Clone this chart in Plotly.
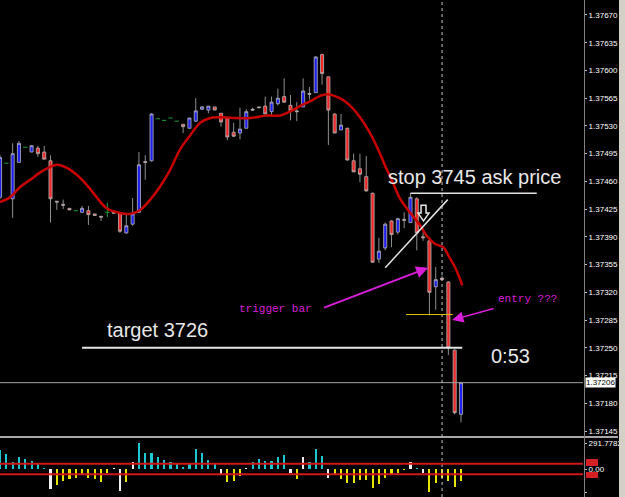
import plotly.graph_objects as go

# ---------------- data ----------------
opens = [1.37440, 1.37483, 1.37438, 1.37484, 1.37503, 1.37497, 1.37502, 1.37497, 1.37486, 1.37435,
         1.37431, 1.37426, 1.37423, 1.37421, 1.37423, 1.37419, 1.37416, 1.37421, 1.37421, 1.37420,
         1.37395, 1.37406, 1.37421, 1.37485, 1.37486, 1.37539, 1.37537, 1.37540, 1.37536, 1.37532,
         1.37527, 1.37536, 1.37551, 1.37550, 1.37554, 1.37546, 1.37540, 1.37522, 1.37521, 1.37527,
         1.37551, 1.37554, 1.37555, 1.37548, 1.37558, 1.37567, 1.37556, 1.37549, 1.37554, 1.37571,
         1.37572, 1.37620, 1.37592, 1.37545, 1.37525, 1.37527, 1.37486, 1.37476, 1.37466, 1.37445,
         1.37362, 1.37376, 1.37410, 1.37396, 1.37412, 1.37408, 1.37438, 1.37390, 1.37385, 1.37327,
         1.37338, 1.37333, 1.37247, 1.37166]
highs = [1.37493, 1.37483, 1.37508, 1.37511, 1.37503, 1.37506, 1.37505, 1.37505, 1.37493, 1.37435,
         1.37437, 1.37426, 1.37423, 1.37429, 1.37429, 1.37419, 1.37416, 1.37433, 1.37422, 1.37421,
         1.37420, 1.37439, 1.37497, 1.37493, 1.37546, 1.37539, 1.37537, 1.37540, 1.37536, 1.37532,
         1.37540, 1.37565, 1.37555, 1.37555, 1.37554, 1.37546, 1.37541, 1.37534, 1.37553, 1.37551,
         1.37553, 1.37554, 1.37567, 1.37567, 1.37577, 1.37590, 1.37569, 1.37560, 1.37590, 1.37579,
         1.37618, 1.37621, 1.37592, 1.37546, 1.37545, 1.37528, 1.37495, 1.37495, 1.37492, 1.37446,
         1.37389, 1.37408, 1.37411, 1.37414, 1.37421, 1.37445, 1.37440, 1.37396, 1.37386, 1.37352,
         1.37341, 1.37334, 1.37248, 1.37206]
lows = [1.37438, 1.37483, 1.37414, 1.37484, 1.37503, 1.37497, 1.37491, 1.37488, 1.37408, 1.37424,
        1.37425, 1.37424, 1.37423, 1.37420, 1.37405, 1.37417, 1.37410, 1.37415, 1.37419, 1.37395,
        1.37394, 1.37404, 1.37420, 1.37462, 1.37485, 1.37539, 1.37537, 1.37540, 1.37536, 1.37521,
        1.37527, 1.37535, 1.37550, 1.37546, 1.37550, 1.37529, 1.37512, 1.37516, 1.37513, 1.37527,
        1.37549, 1.37553, 1.37545, 1.37544, 1.37556, 1.37559, 1.37537, 1.37536, 1.37554, 1.37563,
        1.37572, 1.37582, 1.37506, 1.37521, 1.37525, 1.37486, 1.37472, 1.37459, 1.37447, 1.37357,
        1.37357, 1.37373, 1.37377, 1.37393, 1.37401, 1.37408, 1.37373, 1.37385, 1.37291, 1.37298,
        1.37335, 1.37241, 1.37166, 1.37156]
closes = [1.37490, 1.37483, 1.37495, 1.37508, 1.37503, 1.37505, 1.37495, 1.37488, 1.37438, 1.37434,
          1.37430, 1.37424, 1.37423, 1.37426, 1.37418, 1.37417, 1.37415, 1.37421, 1.37420, 1.37397,
          1.37404, 1.37419, 1.37481, 1.37484, 1.37545, 1.37539, 1.37537, 1.37540, 1.37536, 1.37529,
          1.37540, 1.37549, 1.37554, 1.37555, 1.37550, 1.37535, 1.37516, 1.37517, 1.37526, 1.37548,
          1.37550, 1.37553, 1.37545, 1.37560, 1.37565, 1.37560, 1.37549, 1.37548, 1.37574, 1.37570,
          1.37617, 1.37596, 1.37550, 1.37521, 1.37531, 1.37487, 1.37472, 1.37469, 1.37448, 1.37358,
          1.37372, 1.37406, 1.37393, 1.37413, 1.37411, 1.37440, 1.37395, 1.37389, 1.37320, 1.37336,
          1.37336, 1.37250, 1.37168, 1.37206]

# moving average (bar position, price)
ma_x = [0, 1.6, 3.2, 4.8, 6.3, 7.9, 9.0, 10.6, 12.2, 13.8, 15.4, 16.9, 19.0, 20.6, 22.2, 23.8,
        25.3, 26.9, 28.5, 30.1, 31.7, 33.3, 34.8, 36.9, 39.6, 42.3, 44.3, 45.9, 47.5, 49.1, 50.7,
        51.8, 53.8, 55.4, 57.0, 58.6, 59.9, 61.3, 62.2, 63.3, 64.9, 66.5, 67.6, 68.9, 70.2, 71.1,
        72.1, 73.2]
ma_y = [1.37434, 1.37440, 1.37453, 1.37462, 1.37471, 1.37478, 1.37481, 1.37477, 1.37468, 1.37455,
        1.37439, 1.37426, 1.37420, 1.37419, 1.37424, 1.37437, 1.37453, 1.37474, 1.37500, 1.37518,
        1.37534, 1.37540, 1.37541, 1.37540, 1.37540, 1.37543, 1.37543, 1.37548, 1.37555, 1.37561,
        1.37568, 1.37570, 1.37565, 1.37556, 1.37541, 1.37521, 1.37500, 1.37474, 1.37459, 1.37439,
        1.37421, 1.37405, 1.37391, 1.37381, 1.37377, 1.37365, 1.37351, 1.37329]

# oscillator histogram
hist = [213, 168, 79, 135, 112, 90, 67, 8, -224, -180,
        -135, -112, -101, -56, -101, -112, -146, -45, 5, -247,
        -146, 79, 291.7782, 180, 180, 135, 101, 79, 56, 22,
        56, 224, 180, 101, 56, -56, -146, -135, -79, 11,
        79, 112, 90, 90, 135, 157, -45, -112, 135, 79,
        224, 146, -101, -56, -112, -157, -157, -124, -124, -213,
        -168, -101, -67, -45, -8, 79, 11, -45, -260.675, -157,
        -101, -135, -202, -135]

price_ticks = [1.37145, 1.37180, 1.37215, 1.37250, 1.37285, 1.37320, 1.37355, 1.37390,
               1.37425, 1.37460, 1.37495, 1.37530, 1.37565, 1.37600, 1.37635, 1.37670]
osc_ticks = [291.7782, 0.0, -260.675]
osc_labels = ["291.7782", "0.00", "-260.675"]
osc_levels = [60, -60]

last_price = 1.37206
stop_level = 1.37445
target_level = 1.37250
entry_level = 1.37292
marker_bar = 70

# ---------------- figure ----------------
W, H = 625, 497
XR = [0, 92.32]
X_END = 583 / W

n = len(opens)
idx = list(range(n))
body = [i for i in idx if opens[i] != closes[i]]
doji = [i for i in idx if opens[i] == closes[i]]

fig = go.Figure()

fig.add_trace(go.Candlestick(
    x=body, open=[opens[i] for i in body], high=[highs[i] for i in body],
    low=[lows[i] for i in body], close=[closes[i] for i in body],
    increasing=dict(fillcolor="#1f1ff0", line=dict(color="#b4b4b4", width=0.8)),
    decreasing=dict(fillcolor="#f02828", line=dict(color="#b4b4b4", width=0.8)),
    whiskerwidth=0, xaxis="x", yaxis="y", showlegend=False, hoverinfo="skip"))

dx, dy = [], []
for i in doji:
    dx += [i - 0.35, i + 0.35, None, i, i, None]
    dy += [opens[i], opens[i], None, lows[i], highs[i], None]
fig.add_trace(go.Scatter(x=dx, y=dy, mode="lines", line=dict(color="#1c9a3a", width=1),
                         xaxis="x", yaxis="y", showlegend=False, hoverinfo="skip"))

fig.add_trace(go.Scatter(x=ma_x, y=ma_y, mode="lines", line=dict(color="#c80000", width=2.5, shape="spline"),
                         xaxis="x", yaxis="y", showlegend=False, hoverinfo="skip"))

cols = []
for i, v in enumerate(hist):
    if i > 0 and (v > 0) != (hist[i - 1] > 0):
        cols.append("#f0f0f0")
    else:
        cols.append("#1ec8d2" if v > 0 else "#e8e600")
fig.add_trace(go.Bar(x=idx, y=hist, marker=dict(color=cols, line=dict(width=0)), width=0.34,
                     xaxis="x2", yaxis="y2", showlegend=False, hoverinfo="skip"))

def py(p):  # pixel row -> paper y
    return 1 - p / H

def px(p):
    return p / W

shapes = []
# panel separator / frames
shapes.append(dict(type="line", xref="paper", yref="paper", x0=0, x1=px(618), y0=py(437), y1=py(437),
                   line=dict(color="#a8a8a8", width=2)))
shapes.append(dict(type="line", xref="paper", yref="paper", x0=px(584.5), x1=px(584.5), y0=0, y1=1,
                   line=dict(color="#808080", width=1)))
shapes.append(dict(type="rect", xref="paper", yref="paper", x0=px(619), x1=1, y0=0, y1=1,
                   fillcolor="#d4d0c8", line=dict(width=0)))
# current price line
shapes.append(dict(type="line", xref="paper", yref="y", x0=0, x1=X_END, y0=last_price, y1=last_price,
                   line=dict(color="#a0a0a0", width=1)))
# vertical dashed marker
shapes.append(dict(type="line", xref="x", yref="paper", x0=marker_bar, x1=marker_bar, y0=0, y1=1,
                   line=dict(color="#c8c8c8", width=1, dash="3px,3px")))
# oscillator levels
for lv in osc_levels:
    shapes.append(dict(type="line", xref="paper", yref="y2", x0=0, x1=X_END, y0=lv, y1=lv,
                       line=dict(color="#d01818", width=2)))
shapes.append(dict(type="rect", xref="paper", yref="paper", x0=px(586), x1=px(598), y0=py(466), y1=py(459),
                   fillcolor="#d42020", line=dict(width=0)))
shapes.append(dict(type="rect", xref="paper", yref="paper", x0=px(586), x1=px(598), y0=py(478), y1=py(472),
                   fillcolor="#d42020", line=dict(width=0)))
# drawn objects
shapes.append(dict(type="line", xref="x", yref="y", x0=13.0, x1=73.2, y0=target_level, y1=target_level,
                   line=dict(color="#e4e4e4", width=2)))
shapes.append(dict(type="line", xref="x", yref="y", x0=65.0, x1=85.0, y0=stop_level, y1=stop_level,
                   line=dict(color="#e4e4e4", width=1.5)))
shapes.append(dict(type="line", xref="x", yref="y", x0=64.3, x1=71.7, y0=entry_level, y1=entry_level,
                   line=dict(color="#e0c000", width=1)))
shapes.append(dict(type="line", xref="x", yref="y", x0=61.0, x1=70.9, y0=1.37351, y1=1.37437,
                   line=dict(color="#e4e4e4", width=1.5)))
shapes.append(dict(type="path", xref="x", yref="y",
                   path="M 66.67,1.37430 L 67.46,1.37430 L 67.46,1.37420 L 67.93,1.37420 L 67.06,1.37410 "
                        "L 66.19,1.37420 L 66.67,1.37420 Z",
                   fillcolor="black", line=dict(color="#e8e8e8", width=1.5)))

ann = []
big = dict(family="Liberation Sans, Arial", size=20, color="#e8e8e8")
mono = dict(family="Liberation Mono, Courier New", size=11, color="#d81ed8")
ann.append(dict(x=75.2, y=1.37465, xref="x", yref="y", text="stop 3745 ask price", showarrow=False, font=big))
ann.append(dict(x=25.0, y=1.37272, xref="x", yref="y", text="target 3726", showarrow=False, font=big))
ann.append(dict(x=80.8, y=1.37240, xref="x", yref="y", text="0:53", showarrow=False, font=big))
ann.append(dict(x=43.7, y=1.37299, xref="x", yref="y", text="trigger bar", showarrow=False, font=mono))
ann.append(dict(x=83.6, y=1.37312, xref="x", yref="y", text="entry ???", showarrow=False, font=mono))
ann.append(dict(x=67.8, y=1.37351, ax=51.1, ay=1.37300, xref="x", yref="y", axref="x", ayref="y",
                text="", showarrow=True, arrowhead=2, arrowsize=1.2, arrowwidth=2, arrowcolor="#d81ed8"))
ann.append(dict(x=71.6, y=1.37285, ax=78.4, ay=1.37300, xref="x", yref="y", axref="x", ayref="y",
                text="", showarrow=True, arrowhead=2, arrowsize=1.5, arrowwidth=1.5, arrowcolor="#d81ed8"))
ann.append(dict(x=px(585), y=last_price, xref="paper", yref="y", xanchor="left", yanchor="middle",
                text=f"{last_price:.5f}", showarrow=False, bgcolor="#ffffff", borderpad=0,
                font=dict(family="Liberation Sans, Arial", size=8, color="black")))

tickfont = dict(family="Liberation Sans, Arial", size=8, color="#ffffff")
fig.update_layout(
    width=W, height=H, margin=dict(l=0, r=0, t=0, b=0),
    paper_bgcolor="black", plot_bgcolor="black",
    showlegend=False, bargap=0,
    xaxis=dict(domain=[0, X_END], range=XR, visible=False, rangeslider=dict(visible=False), anchor="y"),
    xaxis2=dict(domain=[0, X_END], range=XR, visible=False, anchor="y2", matches="x"),
    yaxis=dict(domain=[1 - 436 / H, 1], range=[1.371387, 1.376889], side="right", anchor="x",
               tickvals=price_ticks, tickformat=".5f", ticks="outside", ticklen=3, tickcolor="#c0c0c0",
               tickfont=tickfont, showgrid=False, zeroline=False, showline=False),
    yaxis2=dict(domain=[0, 1 - 439 / H], range=[-314.2, 336.7], side="right", anchor="x2",
                tickvals=osc_ticks, ticktext=osc_labels, ticks="outside", ticklen=3, tickcolor="#c0c0c0",
                tickfont=tickfont, showgrid=False, zeroline=False, showline=False),
    shapes=shapes, annotations=ann,
)

fig.write_html("out.html")
